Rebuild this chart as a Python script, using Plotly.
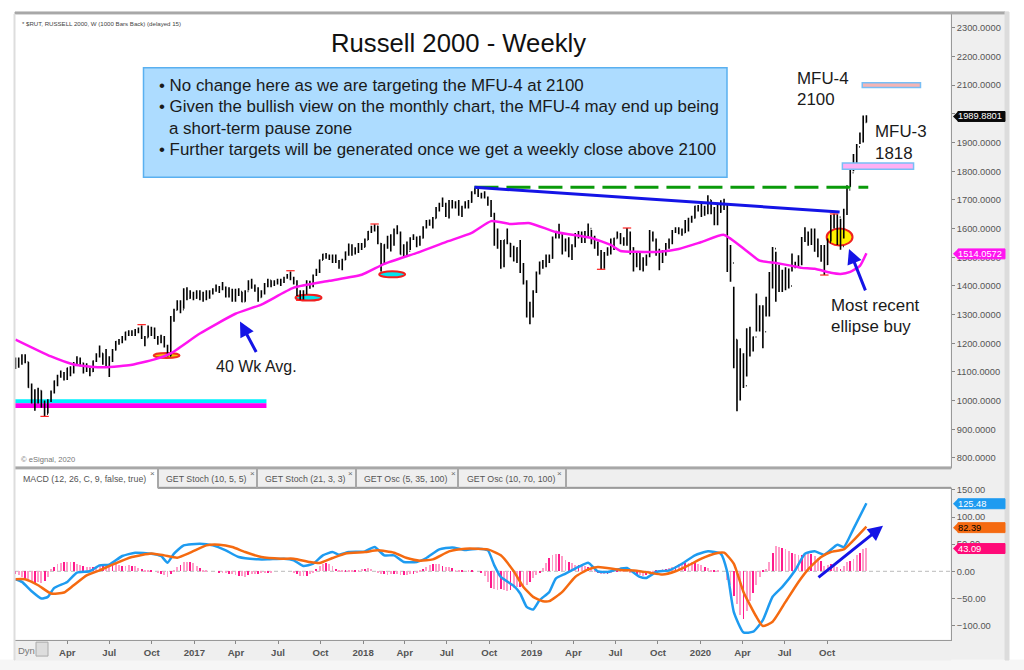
import pandas as pd
import plotly.graph_objs as go

FONT = "Liberation Sans"

# weekly high, low, close
rows = [
    (1150, 1110, 1125), (1150, 1115, 1140), (1162, 1125, 1155),
    # 2016
    (1162, 1130, 1135), (1135, 1045, 1046), (1060, 990, 1007), (1040, 965, 1035), (1045, 990, 1035),
    (1035, 975, 989), (1000, 945, 953), (1005, 955, 1000), (1035, 995, 1029),
    (1070, 1025, 1068), (1090, 1050, 1085), (1105, 1080, 1097), (1100, 1070, 1076),
    (1115, 1072, 1114), (1120, 1085, 1097), (1135, 1095, 1130), (1155, 1125, 1145), (1150, 1120, 1131),
    (1132, 1095, 1114), (1130, 1100, 1103), (1115, 1085, 1102), (1140, 1100, 1138),
    (1165, 1135, 1154), (1192, 1150, 1165), (1165, 1125, 1128), (1180, 1115, 1127),
    (1155, 1082, 1152), (1180, 1135, 1177), (1208, 1175, 1206), (1215, 1195, 1211), (1225, 1200, 1220),
    (1240, 1210, 1239), (1245, 1225, 1230), (1245, 1225, 1239), (1250, 1225, 1240),
    (1255, 1235, 1251), (1262, 1215, 1219), (1225, 1190, 1219), (1262, 1220, 1255), (1258, 1225, 1251),
    (1255, 1215, 1220), (1225, 1195, 1212), (1230, 1200, 1218), (1225, 1185, 1188),
    (1195, 1155, 1156), (1295, 1155, 1283), (1320, 1275, 1315), (1350, 1315, 1347),
    (1350, 1305, 1317), (1392, 1320, 1388), (1395, 1350, 1357), (1385, 1355, 1375), (1380, 1350, 1357),
    # 2017
    (1385, 1355, 1373), (1385, 1350, 1372), (1380, 1345, 1353), (1385, 1350, 1378),
    (1385, 1355, 1377), (1392, 1370, 1389), (1405, 1380, 1395), (1400, 1375, 1390),
    (1414, 1385, 1395), (1398, 1360, 1365), (1395, 1360, 1387), (1390, 1345, 1355), (1390, 1345, 1385),
    (1392, 1365, 1380), (1380, 1343, 1345), (1385, 1345, 1381), (1420, 1385, 1400),
    (1425, 1390, 1396), (1405, 1380, 1391), (1395, 1345, 1360), (1385, 1360, 1382),
    (1410, 1370, 1406), (1425, 1395, 1420), (1420, 1395, 1406), (1420, 1400, 1415), (1425, 1405, 1415),
    (1425, 1400, 1416), (1432, 1410, 1428), (1442, 1425, 1434), (1450, 1420, 1427),
    (1432, 1405, 1415), (1420, 1365, 1372), (1385, 1350, 1355), (1385, 1352, 1378),
    (1420, 1370, 1414), (1418, 1390, 1400), (1440, 1395, 1437), (1460, 1435, 1450), (1492, 1445, 1490),
    (1512, 1490, 1510), (1515, 1495, 1503), (1510, 1490, 1498), (1510, 1480, 1497),
    (1510, 1480, 1484), (1490, 1460, 1467), (1495, 1455, 1491), (1520, 1490, 1518),
    (1548, 1505, 1542), (1545, 1505, 1520), (1535, 1510, 1520), (1550, 1515, 1543), (1550, 1525, 1535),
    # 2018
    (1565, 1535, 1560), (1592, 1560, 1590), (1610, 1585, 1606), (1615, 1590, 1608),
    (1610, 1545, 1548), (1550, 1450, 1477), (1545, 1475, 1544), (1575, 1530, 1572),
    (1580, 1520, 1543), (1600, 1540, 1597), (1612, 1580, 1587), (1590, 1510, 1510), (1545, 1500, 1529),
    (1555, 1505, 1521), (1570, 1525, 1563), (1580, 1560, 1567), (1572, 1535, 1563),
    (1575, 1540, 1567), (1608, 1565, 1605), (1630, 1600, 1627), (1632, 1610, 1626),
    (1640, 1600, 1635), (1675, 1635, 1672), (1690, 1660, 1683), (1708, 1675, 1685), (1690, 1640, 1643),
    (1700, 1635, 1696), (1700, 1670, 1692), (1695, 1670, 1686), (1700, 1645, 1660),
    (1680, 1640, 1673), (1695, 1670, 1688), (1700, 1670, 1692), (1730, 1690, 1725), (1742, 1720, 1740),
    (1740, 1710, 1718), (1725, 1705, 1713), (1730, 1705, 1709), (1712, 1680, 1696),
    (1700, 1640, 1650), (1655, 1540, 1546), (1600, 1530, 1552), (1560, 1460, 1470),
    (1560, 1465, 1560), (1600, 1545, 1549), (1550, 1500, 1526), (1540, 1485, 1488), (1535, 1480, 1533),
    (1560, 1445, 1448), (1480, 1405, 1411), (1420, 1290, 1295), (1345, 1266, 1337),
    # 2019
    (1385, 1290, 1380), (1450, 1375, 1447), (1485, 1440, 1482), (1490, 1460, 1482),
    (1510, 1465, 1502), (1510, 1480, 1497), (1572, 1495, 1569), (1592, 1565, 1590),
    (1617, 1565, 1578), (1580, 1510, 1523), (1565, 1520, 1561), (1570, 1500, 1505), (1545, 1490, 1539),
    (1585, 1535, 1582), (1592, 1565, 1584), (1590, 1550, 1555), (1592, 1550, 1589),
    (1618, 1570, 1600), (1595, 1545, 1566), (1575, 1530, 1535), (1555, 1505, 1514), (1525, 1458, 1466),
    (1518, 1460, 1514), (1535, 1505, 1517), (1565, 1510, 1550), (1568, 1525, 1566),
    (1590, 1565, 1579), (1585, 1545, 1559), (1570, 1540, 1547), (1602, 1540, 1582),
    (1590, 1510, 1533), (1535, 1450, 1510), (1520, 1465, 1491), (1515, 1455, 1460), (1500, 1450, 1495),
    (1510, 1470, 1505), (1595, 1500, 1578), (1590, 1555, 1560), (1565, 1505, 1523),
    (1530, 1455, 1500), (1525, 1480, 1511), (1550, 1505, 1545), (1565, 1530, 1558),
    (1595, 1545, 1589), (1605, 1585, 1598), (1605, 1580, 1591), (1600, 1575, 1586), (1630, 1585, 1624),
    (1638, 1590, 1635), (1645, 1620, 1637), (1680, 1635, 1678), (1682, 1660, 1677),
    # 2020
    (1690, 1640, 1658), (1680, 1645, 1654), (1716, 1650, 1700), (1700, 1650, 1662), (1675, 1612, 1615),
    (1690, 1612, 1657), (1699, 1655, 1688), (1704, 1665, 1678), (1685, 1449, 1476),
    (1543, 1415, 1480), (1397, 1113, 1213), (1213, 963, 1014), (1183, 1000, 1137),
    (1165, 1044, 1052), (1252, 1084, 1247), (1258, 1154, 1213), (1224, 1171, 1222),
    (1374, 1241, 1260), (1333, 1241, 1300), (1333, 1183, 1240), (1362, 1293, 1340), (1449, 1293, 1394),
    (1536, 1391, 1530), (1519, 1345, 1388), (1473, 1379, 1419), (1456, 1379, 1390),
    (1465, 1385, 1430), (1461, 1391, 1400), (1513, 1450, 1467), (1484, 1462, 1477), (1507, 1465, 1480),
    (1571, 1472, 1568), (1605, 1553, 1585), (1590, 1540, 1554), (1600, 1543, 1590),
    (1600, 1519, 1536), (1565, 1500, 1510), (1543, 1484, 1500), (1543, 1438, 1475),
    (1565, 1473, 1552), (1647, 1555, 1630), (1652, 1600, 1616), (1650, 1543, 1640), (1634, 1526, 1538),
    (1669, 1565, 1655), (1751, 1647, 1735), (1808, 1745, 1795), (1860, 1800, 1850),
    (1895, 1805, 1885), (1935, 1895, 1915), (1994, 1900, 1970), (1995, 1970, 1989.88),
]

# 40 week average, as (week number, value)
ma40 = [
    (0, 1213), (11, 1154), (18, 1126), (26, 1116), (35, 1123), (43, 1144), (48, 1165), (57, 1234),
    (68, 1303), (76, 1335), (86, 1394), (97, 1418), (107, 1439), (114, 1477), (125, 1519), (133, 1553),
    (141, 1585), (147, 1626), (153, 1616), (159, 1619), (167, 1588), (178, 1567), (184, 1543), (187, 1522),
    (192, 1519), (199, 1519), (205, 1529), (212, 1553), (219, 1578), (226, 1522), (230, 1488), (235, 1480),
    (240, 1470), (243, 1463), (247, 1460), (252, 1446), (255, 1442), (258, 1449), (261, 1470), (263, 1514.06),
]

macd = [
    (0, -14.7), (2, -19.6), (5, -36.8), (8, -50.3), (10, -47.2), (12, -30.6), (16, -19.6), (19, -2.5),
    (23, 0), (26, 11), (29, 12.3), (33, 28.2), (37, 34.3), (42, 32.5), (45, 28.2), (47, 15.9),
    (49, 32.5), (52, 47.8), (57, 50.9), (61, 47.8), (65, 38.6), (69, 26.3), (75, 22), (78, 22),
    (83, 23.3), (86, 20.2), (89, 9.8), (92, 14), (95, 29.4), (98, 35.5), (100, 30.6), (103, 35.5),
    (108, 36.8), (111, 44.7), (114, 29.4), (117, 29.4), (120, 17.2), (124, 17.2), (127, 24.5), (131, 40.4),
    (135, 44.1), (139, 39.2), (143, 41.7), (146, 38.6), (148, 11), (150, -10.4), (154, -27), (156, -41),
    (158, -65.6), (160, -70.5), (162, -53.3), (165, -38), (167, -13.5), (170, -4.3), (174, 8), (177, 15.9),
    (180, 0), (183, -1.2), (187, 4.9), (189, 6.1), (193, -10.4), (195, -12.3), (198, -1.2), (202, 1.8),
    (206, 14), (210, 29.4), (214, 36.8), (218, 32.5), (220, -1.2), (222, -74.7), (225, -112.7), (228, -111.5),
    (231, -90), (234, -47), (237, -28.8), (241, 1.8), (244, 32.5), (247, 36.8), (250, 30.6), (254, 49),
    (256, 44.7), (259, 78.4), (263, 125.48),
]

signal = [
    (0, -14.7), (3, -14.7), (7, -25.7), (11, -41), (15, -39.2), (18, -25.7), (22, -7.4), (26, 1.8),
    (30, 12.3), (36, 26.3), (42, 33), (46, 29.4), (50, 25.1), (54, 34.3), (59, 47.8), (63, 49),
    (67, 44.7), (71, 35.5), (76, 26.3), (82, 23.3), (86, 23.3), (91, 17.2), (94, 15.3), (98, 24.5),
    (102, 33), (108, 35.5), (112, 38.6), (117, 34.3), (121, 24.5), (125, 19.6), (129, 22), (134, 36.8),
    (139, 41.7), (146, 40.4), (150, 29.4), (154, 0), (157, -28.8), (160, -47.2), (163, -55.1), (165, -55.1),
    (169, -38), (173, -10.4), (177, 3.7), (180, 8), (187, 2.5), (192, 1.2), (196, -2.5), (200, -6.1),
    (204, 0), (208, 11), (212, 23.3), (216, 32.5), (219, 34.3), (222, 14), (225, -38), (229, -83.9),
    (231, -101), (234, -93.1), (238, -56.4), (242, -19.6), (245, 3.7), (249, 26.3), (252, 35.5), (256, 40.4),
    (259, 57), (263, 82.39),
]

# one histogram value per week
hist = [
    -4, -6, -10, -14, -18, -20, -22, -20, -22, -18,
    -10, 4, 8, 13, 15, 17, 18, 18, 17, 14,
    12, 10, 9, 9, 8, 9, 10, 10, 11, 11,
    12, 13, 12, 11, 11, 12, 11, 10, 7, 4,
    3, 2, 1, 0, -2, -5, -7, -10, -4, 3,
    8, 12, 17, 18, 18, 16, 11, 7, 3, 1,
    0, 0, 0, -1, -1, -2, -4, -5, -7, -8,
    -9, -11, -7, -5, -5, -4, -3, -2, -1, -1,
    0, 0, 0, 0, 0, 0, -2, -5, -8, -9,
    -8, -5, -3, 5, 10, 14, 15, 14, 10, 5,
    3, 2, 2, 1, 2, 2, 3, 4, 5, 6,
    4, 0, -3, -4, -5, -6, -5, -4, -5, -6,
    -6, -7, -5, -4, -3, 2, 5, 9, 12, 13,
    14, 13, 11, 9, 8, 7, 2, 1, 1, 0,
    1, 1, 0, 0, -2, -8, -20, -30, -33, -34,
    -32, -35, -36, -34, -30, -28, -29, -28, -25, -20,
    -12, -6, -1, 6, 15, 25, 30, 33, 32, 28,
    22, 17, 15, 12, 12, 13, 11, 8, 5, 2,
    -1, -4, -5, -5, -3, 0, 2, 3, 2, 0,
    -1, -3, -6, -7, -8, -7, -5, -2, 1, 3,
    4, 5, 7, 9, 11, 13, 14, 15, 16, 17,
    16, 14, 12, 9, 6, 3, 1, 1, 0, 0,
    -15, -25, -45, -60, -80, -88, -72, -55, -40, -25,
    -10, 1, 5, 18, 35, 47, 46, 44, 42, 38,
    35, 33, 31, 30, 31, 34, 33, 29, 24, 20,
    10, 12, 14, 10, 8, 5, 10, 17, 20, 23,
    31, 35, 42, 43.09,
]


# page pixels to paper coordinates
def px(x):
    return x / 1024


def py(y):
    return 1 - y / 670


def rect(x0, y0, x1, y1, fill, line=None, layer="below", width=1):
    return dict(type="rect", xref="paper", yref="paper", x0=px(x0), x1=px(x1), y0=py(y0), y1=py(y1),
                fillcolor=fill, line=dict(color=line or fill, width=width), layer=layer)


def label(x, y, text, size=16.9, color="#1a1a1a", anchor="left"):
    return dict(xref="paper", yref="paper", x=px(x), y=py(y), text=text, showarrow=False, xanchor=anchor,
                yanchor="middle", font=dict(family=FONT, size=size, color=color))


def arrow(x0, y0, x1, y1):
    return dict(xref="paper", yref="paper", x=px(x1), y=py(y1), ax=x0 - x1, ay=y0 - y1, text="", showarrow=True,
                arrowhead=2, arrowsize=1, arrowwidth=3, arrowcolor="#1414E6")


def plotly_visualizer():
    dates = pd.date_range("2015-12-11", periods=len(rows), freq="W-FRI")
    closes = [r[2] for r in rows]
    xrange = ["2015-12-10", "2021-06-26"]
    # Create a layout for the plot
    layout = go.Layout(
        width=1024,
        height=670,
        showlegend=False,
        margin=dict(b=0, l=0, r=0, t=0),
        paper_bgcolor="white",
        plot_bgcolor="white",
        bargap=0,
        xaxis=dict(domain=[px(15), px(951)], range=xrange, showgrid=False, zeroline=False, showticklabels=False,
                   ticks="", rangeslider=dict(visible=False)),
        yaxis=dict(domain=[py(467), py(11)], range=[765.3, 2348.6], side="right", anchor="x", showgrid=False,
                   zeroline=False, tickvals=list(range(800, 2400, 100)), tickformat=".4f", ticks="outside",
                   ticklen=3, tickcolor="#888888", showline=True, linecolor="#999999",
                   tickfont=dict(family=FONT, size=9.3, color="#555555")),
        xaxis2=dict(domain=[px(15), px(951)], range=xrange, anchor="y2", showgrid=False, zeroline=False,
                    tickvals=["2016-04-01", "2016-07-01", "2016-10-01", "2017-01-01", "2017-04-01", "2017-07-01",
                              "2017-10-01", "2018-01-01", "2018-04-01", "2018-07-01", "2018-10-01", "2019-01-01",
                              "2019-04-01", "2019-07-01", "2019-10-01", "2020-01-01", "2020-04-01", "2020-07-01",
                              "2020-10-01"],
                    ticktext=["Apr", "Jul", "Oct", "2017", "Apr", "Jul", "Oct", "2018", "Apr", "Jul", "Oct", "2019",
                              "Apr", "Jul", "Oct", "2020", "Apr", "Jul", "Oct"],
                    ticks="outside", ticklen=3, tickcolor="#888888", showline=True, linecolor="#999999",
                    tickangle=0, tickfont=dict(family=FONT, size=9.6, color="#555555", weight="bold")),
        yaxis2=dict(domain=[py(640), py(487)], range=[-127, 154], side="right", anchor="x2", showgrid=False,
                    zeroline=False, tickvals=[-100, -50, 0, 50, 100, 150], tickformat=".2f", ticks="outside",
                    ticklen=3, tickcolor="#888888", showline=True, linecolor="#999999",
                    tickfont=dict(family=FONT, size=9.3, color="#555555")))
    # Create a Plotly figure
    fig = go.Figure(data=[], layout=layout)
    # Add the price bars
    trace = go.Ohlc(x=dates, open=[closes[0]] + closes[:-1], high=[r[0] for r in rows], low=[r[1] for r in rows],
                    close=closes, tickwidth=0.25, increasing=dict(line=dict(color="black", width=1.6)),
                    decreasing=dict(line=dict(color="black", width=1.6)), hoverinfo="skip")
    fig.add_trace(trace)
    # Add the average
    trace = go.Scatter(x=[dates[w] for w, v in ma40], y=[v for w, v in ma40], mode="lines",
                       line=dict(color="#FF14F0", width=2.5, shape="spline", smoothing=0.5), hoverinfo="none")
    fig.add_trace(trace)
    # Add the pivots
    trace = go.Scatter(x=["2016-02-12", "2016-09-09", "2017-07-28", "2017-08-18", "2018-01-26", "2019-05-31",
                          "2019-07-26", "2020-09-25", "2020-10-16"],
                       y=[945, 1265, 1453, 1350, 1616, 1458, 1602, 1438, 1651], mode="markers",
                       marker=dict(symbol="line-ew", size=6, line=dict(color="#FF2020", width=1.2)),
                       hoverinfo="none")
    fig.add_trace(trace)
    # Add the oscillator
    colors = ["#FF1A8C" if i % 3 == 0 else "#FF9CC8" for i in range(len(hist))]
    trace = go.Bar(x=dates, y=hist, width=1.6e8, marker=dict(color=colors, line=dict(width=0)), xaxis="x2", yaxis="y2",
                   hoverinfo="none")
    fig.add_trace(trace)
    trace = go.Scatter(x=[dates[w] for w, v in macd], y=[v for w, v in macd], mode="lines", xaxis="x2", yaxis="y2",
                       line=dict(color="#1E9BF0", width=2.5, shape="spline", smoothing=0.5), hoverinfo="none")
    fig.add_trace(trace)
    trace = go.Scatter(x=[dates[w] for w, v in signal], y=[v for w, v in signal], mode="lines", xaxis="x2", yaxis="y2",
                       line=dict(color="#F56A10", width=2.5, shape="spline", smoothing=0.5), hoverinfo="none")
    fig.add_trace(trace)
    # Add the frame and the zones
    shapes = [
        rect(951, 9, 1008, 660, "#EFEFEF", layer="below"),
        rect(158, 467, 951, 487, "#EFEFEF", layer="below"),
        rect(0, 660, 1024, 670, "#F6F6F6", layer="below"),
        rect(15, 640, 951, 660, "#EFEFEF", layer="below"),
        rect(15, 9, 1005, 11, "#A8A8A8", layer="above"),
        rect(15, 466, 951, 468, "#A8A8A8", layer="above"),
        rect(15, 486.5, 158, 487.5, "white", layer="above"),
        rect(158, 486.5, 951, 487.5, "#999999", layer="above"),
        rect(14, 11, 15, 660, "#DDDDDD", layer="above"),
        rect(1005, 9, 1009, 660, "#DCDCDC", layer="above"),
        rect(36, 642, 48, 656, "#DDDDDD", line="#AAAAAA", layer="above"),
        dict(type="rect", x0="2015-12-10", x1="2017-06-06", y0=991, y1=1005, fillcolor="#00F0FF", line=dict(width=0),
             layer="below"),
        dict(type="rect", x0="2015-12-10", x1="2017-06-06", y0=974, y1=991, fillcolor="#FF00F0", line=dict(width=0),
             layer="below"),
        dict(type="rect", x0="2020-12-16", x1="2021-04-21", y0=2092, y1=2109, fillcolor="#F4B4B4",
             line=dict(color="#78BEF5", width=1.5)),
        dict(type="rect", x0="2020-11-03", x1="2021-04-06", y0=1807, y1=1829, fillcolor="#FFB0F4",
             line=dict(color="#78BEF5", width=1.5)),
        dict(type="line", x0="2018-08-30", x1="2020-12-29", y0=1744, y1=1744, line=dict(color="#0A9A0A", width=3,
                                                                                       dash="24px,8px")),
        dict(type="line", x0="2018-08-30", x1="2020-10-28", y0=1744, y1=1658, line=dict(color="#1414E6", width=3)),
        dict(type="line", xref="x2", yref="y2", x0="2015-12-10", x1="2021-06-26", y0=0, y1=0,
             line=dict(color="#BBBBBB", width=1, dash="4px,3px"), layer="below"),
        # the ellipses
        dict(type="circle", x0="2020-09-30", x1="2020-11-25", y0=1541, y1=1600, fillcolor="#FFF000",
             line=dict(color="#F02020", width=2), layer="below"),
        dict(type="circle", x0="2016-10-05", x1="2016-11-30", y0=1149, y1=1166, fillcolor="#F0D000",
             line=dict(color="#F03020", width=2), layer="below"),
        dict(type="circle", x0="2017-08-08", x1="2017-10-03", y0=1349, y1=1369, fillcolor="#00E5EE",
             line=dict(color="#F02020", width=2), layer="below"),
        dict(type="circle", x0="2018-02-05", x1="2018-04-02", y0=1430, y1=1451, fillcolor="#00E5EE",
             line=dict(color="#F02020", width=2), layer="below"),
        # the note
        rect(143.5, 65, 727, 175, "#ADDCFF", line="#5AB0F0", layer="above", width=1.5),
    ]
    for x in [158, 257, 356, 458, 566]:
        shapes.append(rect(x - 0.5, 468, x + 0.5, 487, "#A8A8A8", layer="above"))
    # Add the value tags
    tags = [(114, "1989.8801", "#0A0A0A", "white"), (252, "1514.0572", "#FF14F0", "white"),
            (503, "125.48", "#1E9BF0", "white"), (527, "82.39", "#F56A10", "black"), (548, "43.09", "#FF0A78", "white")]
    annotations = []
    for y, text, color, font in tags:
        shapes.append(dict(type="path", xref="paper", yref="paper", fillcolor=color, line=dict(width=0),
                           path="M %f,%f L %f,%f L %f,%f Z" % (px(953), py(y), px(958), py(y - 5), px(958), py(y + 5))))
        shapes.append(rect(958, y - 5, 1005, y + 5, color, layer="above"))
        annotations.append(label(956, y, text, size=9.3, color=font))
    # Add the texts
    annotations += [
        label(20, 21, "* $RUT, RUSSELL 2000, W (1000 Bars Back) (delayed 15)", size=6.1, color="#444444"),
        label(19, 459, "© eSignal, 2020", size=7.6, color="#777777"),
        label(458, 40, "Russell 2000 - Weekly", size=25.7, color="#111111", anchor="center"),
        label(157, 83, "• No change here as we are targeting the MFU-4 at 2100"),
        label(157, 104, "• Given the bullish view on the monthly chart, the MFU-4 may end up being"),
        label(167, 126, "a short-term pause zone"),
        label(157, 147, "• Further targets will be generated once we get a weekly close above 2100"),
        label(795, 76, "MFU-4"),
        label(795, 97, "2100"),
        label(873, 129, "MFU-3"),
        label(873, 151, "1818"),
        label(214, 365, "40 Wk Avg.", size=16),
        label(829, 304, "Most recent"),
        label(829, 325, "ellipse buy"),
        label(21, 478, "MACD (12, 26, C, 9, false, true)", size=8.8, color="#555555"),
        label(164, 478, "GET Stoch (10, 5, 5)", size=8.8, color="#555555"),
        label(263, 478, "GET Stoch (21, 3, 3)", size=8.8, color="#555555"),
        label(362, 478, "GET Osc (5, 35, 100)", size=8.8, color="#555555"),
        label(465, 478, "GET Osc (10, 70, 100)", size=8.8, color="#555555"),
        label(16, 650, "Dyn", size=9.5, color="#777777"),
        arrow(257, 352, 240, 320),
        arrow(866, 290, 849, 247),
        arrow(817, 578, 883, 525),
    ]
    for x in [152, 252, 350, 453, 559]:
        annotations.append(label(x, 473, "×", size=8, color="#666666", anchor="center"))
    fig.update_layout(shapes=shapes, annotations=annotations)
    # the page keeps no margin round the plot
    fig.write_html("out.html", config=dict(displayModeBar=False), post_script="document.body.style.margin = '0';")


plotly_visualizer()
